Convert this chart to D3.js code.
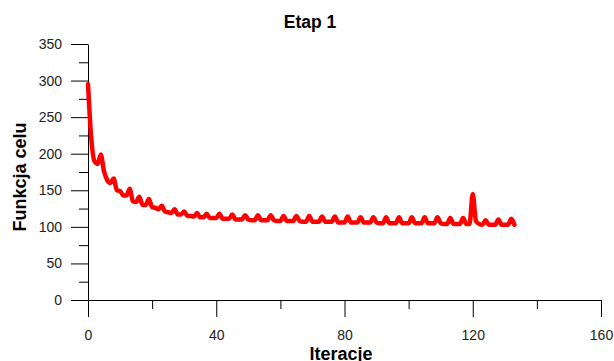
<!DOCTYPE html>
<html>
<head>
<meta charset="utf-8">
<script src="https://cdn.jsdelivr.net/npm/d3@7"></script>
<style>
  body { margin: 0; background: #fff; }
  svg { display: block; font-family: Arial, "Liberation Sans", sans-serif; }
  .axis text { font-size: 14px; fill: #222; }
  .axis path, .axis line { stroke: #000; }
</style>
</head>
<body>
<div id="chart"></div>
<script>
// values, one per iteration (0..133)
const iterValues = [
  295, 222, 190, 186, 199, 176, 164, 160, 166, 150,
  149, 143, 143, 152, 135, 134, 141, 130, 130, 138,
  127, 126, 124, 129, 121, 120, 119, 124, 117, 117,
  121, 115, 115, 114, 119, 113, 113, 118, 112, 112,
  112, 118, 111, 111, 111, 117, 110, 110, 110, 116,
  110, 109, 109, 116, 109, 109, 109, 116, 109, 108,
  108, 115, 108, 108, 108, 115, 108, 107, 107, 115,
  107, 107, 107, 114, 107, 107, 107, 114, 106, 106,
  106, 114, 106, 106, 106, 113, 106, 106, 106, 113,
  106, 105, 105, 113, 105, 105, 105, 113, 105, 105,
  105, 113, 105, 105, 105, 113, 105, 105, 105, 113,
  105, 104, 104, 112, 104, 104, 104, 112, 104, 104,
  145, 108, 104, 103, 109, 103, 103, 103, 110, 103,
  103, 103, 111, 103
];
const xMajorTicks = [0, 40, 80, 120, 160];
const xMinorTicks = [20, 60, 100, 140];
const yMajorTicks = [0, 50, 100, 150, 200, 250, 300, 350];
const yMinorTicks = [25, 75, 125, 175, 225, 275, 325];

const width = 614, height = 361;

const svg = d3.select("#chart").append("svg")
  .attr("width", width)
  .attr("height", height);

const x = d3.scaleLinear().domain([0, 160]).range([88, 601]);
const y = d3.scaleLinear().domain([0, 350]).range([300, 44]);

// minor ticks first
svg.append("g").attr("class", "axis")
  .attr("transform", "translate(0,300)")
  .call(d3.axisBottom(x).tickValues(xMinorTicks).tickSize(9).tickFormat(""))
  .select(".domain").remove();
svg.append("g").attr("class", "axis")
  .attr("transform", "translate(88,0)")
  .call(d3.axisLeft(y).tickValues(yMinorTicks).tickSize(9).tickFormat(""))
  .select(".domain").remove();

svg.append("g").attr("class", "axis")
  .attr("transform", "translate(0,300)")
  .call(d3.axisBottom(x).tickValues(xMajorTicks).tickSize(17).tickSizeOuter(0).tickPadding(13));

svg.append("g").attr("class", "axis")
  .attr("transform", "translate(88,0)")
  .call(d3.axisLeft(y).tickValues(yMajorTicks).tickSize(17).tickSizeOuter(0).tickPadding(9));

const line = d3.line()
  .x((d, i) => x(i))
  .y(d => y(d))
  .curve(d3.curveMonotoneX);

svg.append("path")
  .datum(iterValues)
  .attr("fill", "none")
  .attr("stroke", "#ff0000")
  .attr("stroke-width", 4.5)
  .attr("stroke-linejoin", "round")
  .attr("stroke-linecap", "round")
  .attr("d", line);

svg.append("text")
  .attr("x", 310).attr("y", 28)
  .attr("text-anchor", "middle")
  .style("font-size", "17.5px").style("font-weight", "bold")
  .text("Etap 1");

svg.append("text")
  .attr("x", 341).attr("y", 360)
  .attr("text-anchor", "middle")
  .style("font-size", "18px").style("font-weight", "bold")
  .text("Iteracje");

svg.append("text")
  .attr("transform", "translate(26,177) rotate(-90)")
  .attr("text-anchor", "middle")
  .style("font-size", "18px").style("font-weight", "bold")
  .text("Funkcja celu");
</script>
</body>
</html>
